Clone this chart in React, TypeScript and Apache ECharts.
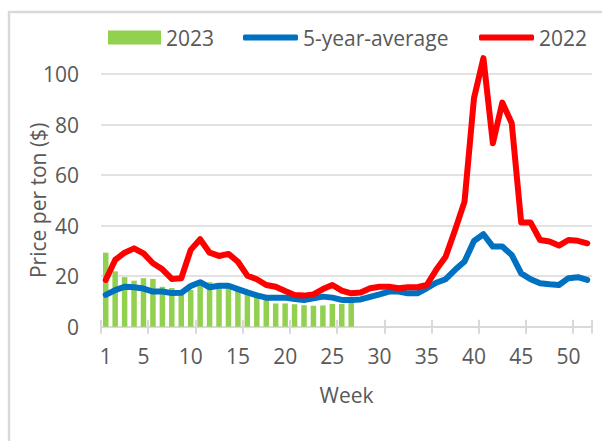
import React, { useEffect, useRef } from "react";
import * as echarts from "echarts";

const weeks: string[] = Array.from({ length: 52 }, (_, i) => String(i + 1));

const series2023: number[] = [
  29.3, 21.9, 19.6, 18.2, 19.2, 18.9, 15.8, 15.3, 13.9, 14.5,
  17.2, 17.6, 16.5, 16.1, 14.5, 13.5, 12.5, 11.2, 9.2, 9.2,
  8.9, 8.5, 8.3, 8.4, 9.0, 9.0, 11.0,
];

const fiveYearAvg: number[] = [
  12.6, 14.5, 15.8, 15.6, 15.1, 13.9, 13.9, 13.3, 13.4, 16.1,
  17.6, 15.6, 16.2, 16.2, 14.9, 13.6, 12.4, 11.5, 11.5, 11.5,
  11.0, 10.6, 11.2, 11.9, 11.5, 10.6, 10.6, 10.8, 11.8, 12.8,
  13.9, 13.9, 13.2, 13.2, 15.2, 17.4, 18.8, 22.5, 25.8, 33.9,
  36.6, 31.7, 31.7, 28.4, 21.1, 18.8, 17.2, 16.8, 16.5, 19.2,
  19.6, 18.5,
];

const series2022: number[] = [
  18.5, 26.4, 29.3, 31.0, 29.0, 25.1, 22.7, 18.9, 19.2, 30.4,
  34.6, 29.3, 28.0, 28.8, 25.7, 20.2, 18.8, 16.5, 15.8, 14.1,
  12.5, 12.3, 12.8, 14.9, 16.5, 14.3, 13.2, 13.5, 15.2, 15.8,
  15.8, 15.2, 15.6, 15.6, 16.5, 22.5, 27.7, 38.3, 49.5, 90.4,
  106.3, 72.6, 88.7, 80.5, 41.2, 41.2, 34.3, 33.7, 32.1, 34.3,
  34.0, 33.0,
];

const yTicks = { min: 0, max: 100, interval: 20 };

const FONT = "Open Sans";
const TXT = "#595959";
const GRID = "#d9d9d9";
const GREEN = "#92D050";
const BLUE = "#0070C0";
const RED = "#FF0000";

export default function App() {
  const ref = useRef<HTMLDivElement>(null);
  useEffect(() => {
    if (!ref.current) return;
    const chart = echarts.init(ref.current, null, { renderer: "svg" });
    const legendBase = {
      top: 27,
      padding: 0,
      itemHeight: 14,
      itemWidth: 55,
      itemGap: 30,
      textStyle: { fontFamily: FONT, fontSize: 21, color: TXT },
      selectedMode: false,
    };
    chart.setOption({
      animation: false,
      backgroundColor: "#ffffff",
      graphic: [
        {
          type: "rect",
          shape: { x: 9, y: 12, width: 800, height: 800 },
          style: { fill: "none", stroke: GRID, lineWidth: 2.5 },
          silent: true,
        },
      ],
      legend: [
        {
          ...legendBase,
          left: 108,
          itemWidth: 53,
          data: [{ name: "2023", icon: "rect", itemStyle: { color: GREEN } }],
        },
        {
          ...legendBase,
          left: 243,
          itemHeight: 6,
          data: [{ name: "5-year-average", icon: "roundRect", itemStyle: { color: BLUE } }],
        },
        {
          ...legendBase,
          left: 479,
          itemHeight: 6,
          data: [{ name: "2022", icon: "roundRect", itemStyle: { color: RED } }],
        },
      ],
      grid: { left: 101, right: 10, top: 74, bottom: 114.3, containLabel: false },
      xAxis: [
        {
          type: "category",
          data: weeks,
          boundaryGap: true,
          axisLine: { show: true, lineStyle: { color: GRID, width: 2 } },
          axisTick: {
            show: true,
            length: 7,
            interval: (index: number) => index % 5 === 0,
            lineStyle: { color: GRID, width: 2 },
          },
          axisLabel: {
            interval: (index: number) => index === 0 || (index + 1) % 5 === 0,
            fontFamily: FONT,
            fontSize: 21,
            color: TXT,
            margin: 19,
          },
          name: "Week",
          nameLocation: "middle",
          nameGap: 58,
          nameMoveOverlap: false,
          nameTextStyle: { fontFamily: FONT, fontSize: 21, color: TXT },
          splitLine: { show: false },
        },
        {
          type: "category",
          data: weeks,
          position: "bottom",
          boundaryGap: true,
          axisLine: { show: false },
          axisTick: {
            show: true,
            inside: true,
            length: 7,
            interval: (index: number) => index % 5 === 0,
            lineStyle: { color: GRID, width: 2 },
          },
          axisLabel: { show: false },
          splitLine: { show: false },
        },
      ],
      yAxis: {
        type: "value",
        min: yTicks.min,
        max: yTicks.max,
        interval: yTicks.interval,
        axisLine: { show: false },
        axisTick: { show: false },
        axisLabel: { fontFamily: FONT, fontSize: 21, color: TXT, margin: 22 },
        splitLine: { lineStyle: { color: GRID, width: 1.5 } },
        name: "Price per ton ($)",
        nameLocation: "middle",
        nameGap: 53,
        nameMoveOverlap: false,
        nameTextStyle: { fontFamily: FONT, fontSize: 21, color: TXT },
      },
      series: [
        {
          name: "2023",
          type: "bar",
          data: series2023,
          barWidth: 5.5,
          itemStyle: { color: GREEN },
          z: 1,
        },
        {
          name: "5-year-average",
          type: "line",
          data: fiveYearAvg,
          symbol: "none",
          showSymbol: false,
          clip: false,
          lineStyle: { color: BLUE, width: 6, cap: "round", join: "round" },
          itemStyle: { color: BLUE },
          z: 2,
        },
        {
          name: "2022",
          type: "line",
          data: series2022,
          symbol: "none",
          showSymbol: false,
          clip: false,
          lineStyle: { color: RED, width: 6, cap: "round", join: "round" },
          itemStyle: { color: RED },
          z: 3,
        },
      ],
    });
    return () => chart.dispose();
  }, []);
  return (
    <div
      ref={ref}
      style={{ position: "absolute", left: 0, top: 0, width: 602, height: 441 }}
    />
  );
}
